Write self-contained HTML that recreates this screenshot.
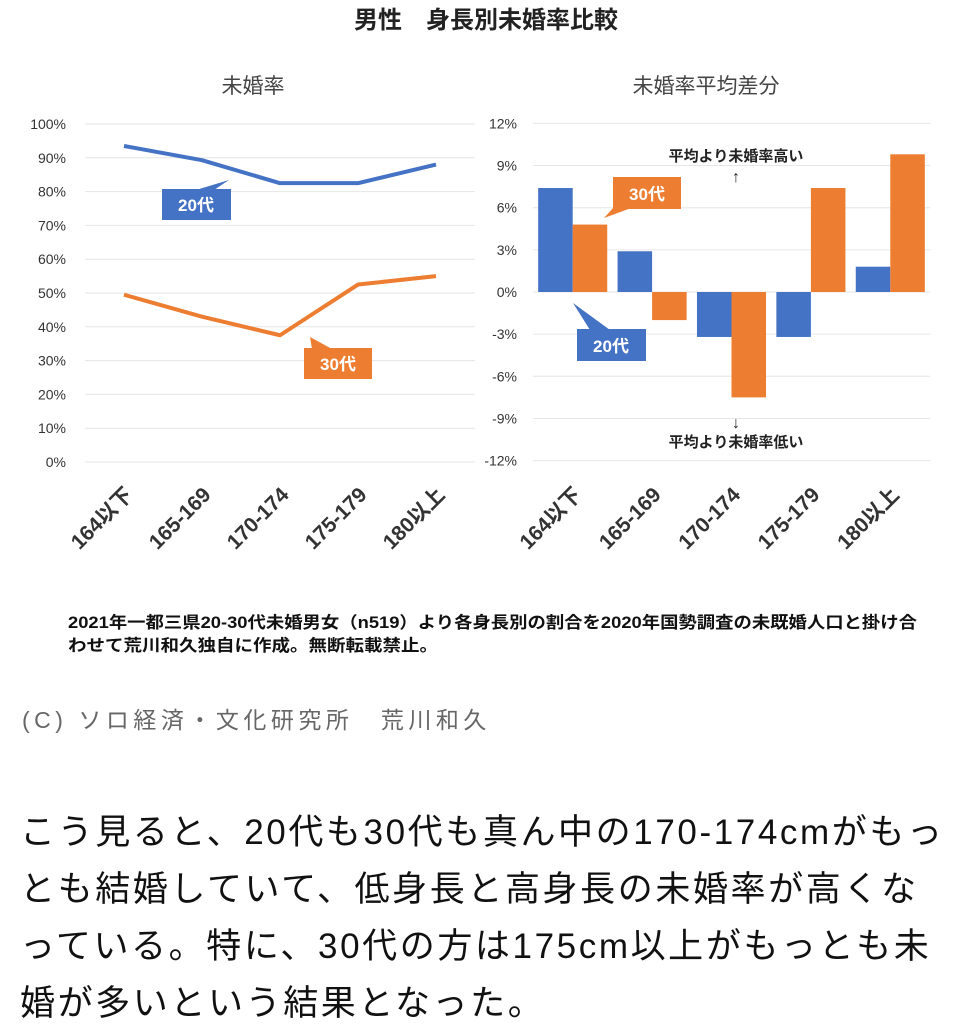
<!DOCTYPE html>
<html><head><meta charset="utf-8">
<style>
html,body{margin:0;padding:0;background:#fff;}
body{width:973px;height:1024px;overflow:hidden;position:relative;font-family:"Liberation Sans","Noto Sans CJK JP",sans-serif;}
svg{position:absolute;left:0;top:0;}
.t{font-family:"Liberation Sans","Noto Sans CJK JP",sans-serif;}
#credit{position:absolute;left:22px;top:701px;font-size:23px;color:#666;margin:0;letter-spacing:4.5px;white-space:nowrap;}
#body{position:absolute;left:20px;top:804px;width:950px;font-size:35px;line-height:57px;color:#111;margin:0;letter-spacing:2.6px;white-space:nowrap;}
</style></head>
<body>
<svg id="chart" width="973" height="690">
<text class="t" x="486" y="28" text-anchor="middle" font-size="24" font-weight="bold" fill="#222">男性　身長別未婚率比較</text>
<text class="t" x="253" y="93" text-anchor="middle" font-size="21" fill="#444">未婚率</text>
<text class="t" x="706" y="93" text-anchor="middle" font-size="21" fill="#444">未婚率平均差分</text>
<g id="left"></g><g id="right"></g>
<text class="t" x="68" y="628" font-size="16.5" font-weight="bold" fill="#111" textLength="849" lengthAdjust="spacingAndGlyphs">2021年一都三県20-30代未婚男女（n519）より各身長別の割合を2020年国勢調査の未既婚人口と掛け合</text>
<text class="t" x="68" y="651" font-size="16.5" font-weight="bold" fill="#111" textLength="370" lengthAdjust="spacingAndGlyphs">わせて荒川和久独自に作成。無断転載禁止。</text>
</svg>
<p id="credit">(C) ソロ経済・文化研究所　荒川和久</p>
<p id="body">こう見ると、20代も30代も真ん中の170-174cmがもっ<br>とも結婚していて、低身長と高身長の未婚率が高くな<br>っている。特に、30代の方は175cm以上がもっとも未<br>婚が多いという結果となった。</p>
<script>
const categories=["164以下","165-169","170-174","175-179","180以上"];
const rate20=[93.5,89.3,82.5,82.5,88];
const rate30=[49.5,43,37.5,52.5,55];
const leftTicks=[0,10,20,30,40,50,60,70,80,90,100];
const diff20=[7.4,2.9,-3.2,-3.2,1.8];
const diff30=[4.8,-2.0,-7.5,7.4,9.8];
const rightTicks=[-12,-9,-6,-3,0,3,6,9,12];
const NS="http://www.w3.org/2000/svg";
const BLUE="#4472c4",ORANGE="#ed7d31";
function mk(p,tag,attrs,txt){const e=document.createElementNS(NS,tag);for(const k in attrs)e.setAttribute(k,attrs[k]);if(txt!==undefined)e.textContent=txt;p.appendChild(e);return e;}
// left chart
const L=document.getElementById('left');
const lx0=85,lx1=475,ly=v=>462-(v/100)*338;
const lbw=(lx1-lx0)/categories.length;
const lcx=i=>lx0+lbw*(i+0.5);
leftTicks.forEach(t=>{
 const g=mk(L,'line',{x1:lx0,x2:lx1,y1:ly(t),y2:ly(t),stroke:'#e6e6e6','stroke-width':1});
 
 
 const tx=mk(L,'text',{x:66,y:ly(t)+5,'text-anchor':'end','font-size':14,fill:'#333',class:'t'},t+'%');
 
 
});
[[rate20,BLUE,'line-20s'],[rate30,ORANGE,'line-30s']].forEach(([d,c,n])=>{
 const pl=mk(L,'polyline',{points:d.map((v,i)=>lcx(i)+','+ly(v)).join(' '),fill:'none',stroke:c,'stroke-width':4,'stroke-linejoin':'round'});
 
 
});
categories.forEach((c,i)=>{
 const t=mk(L,'text',{x:lcx(i)+10,y:496,'text-anchor':'end','font-size':21,'font-weight':'bold',fill:'#333',class:'t',transform:`rotate(-45 ${lcx(i)+10} 496)`},c);
 
 
});
// callouts left
let cb=mk(L,'path',{d:'M196 190 L229 180 L214 190 Z',fill:BLUE});

cb=mk(L,'rect',{x:162,y:189,width:69,height:31,fill:BLUE});

cb=mk(L,'text',{x:196,y:211,'text-anchor':'middle','font-size':17,'font-weight':'bold',fill:'#fff',class:'t'},'20代');

cb=mk(L,'path',{d:'M312 349 L332 349 L310 337 Z',fill:ORANGE});

cb=mk(L,'rect',{x:304,y:348,width:68,height:31,fill:ORANGE});

cb=mk(L,'text',{x:338,y:370,'text-anchor':'middle','font-size':17,'font-weight':'bold',fill:'#fff',class:'t'},'30代');

// right chart
const R=document.getElementById('right');
const rx0=533,rx1=930,ry=v=>292-v*14.05;
const rbw=(rx1-rx0)/categories.length;
const barW=rbw*0.435;
rightTicks.forEach(t=>{
 const g=mk(R,'line',{x1:rx0,x2:rx1,y1:ry(t),y2:ry(t),stroke:'#e6e6e6','stroke-width':1});
 
 
 const tx=mk(R,'text',{x:517,y:ry(t)+5,'text-anchor':'end','font-size':14,fill:'#333',class:'t'},t+'%');
 
 
});
categories.forEach((c,i)=>{
 const cx=rx0+rbw*(i+0.5);
 [[diff20[i],BLUE,-1,'bar-20s'],[diff30[i],ORANGE,0,'bar-30s']].forEach(([v,col,off,n])=>{
  const y=Math.min(ry(v),ry(0)),h=Math.abs(ry(v)-ry(0));
  const r=mk(R,'rect',{x:cx+off*barW,y:y,width:barW,height:h,fill:col});
  
  
 });
 const t=mk(R,'text',{x:cx+10,y:496,'text-anchor':'end','font-size':21,'font-weight':'bold',fill:'#333',class:'t',transform:`rotate(-45 ${cx+10} 496)`},c);
 
 
});
cb=mk(R,'path',{d:'M604 218 L614 207 L634 207 Z',fill:ORANGE});

cb=mk(R,'rect',{x:613,y:177,width:68,height:32,fill:ORANGE});

cb=mk(R,'text',{x:647,y:200,'text-anchor':'middle','font-size':17,'font-weight':'bold',fill:'#fff',class:'t'},'30代');

cb=mk(R,'path',{d:'M573 303 L610 330 L590 330 Z',fill:BLUE});

cb=mk(R,'rect',{x:577,y:329,width:69,height:32,fill:BLUE});

cb=mk(R,'text',{x:611,y:352,'text-anchor':'middle','font-size':17,'font-weight':'bold',fill:'#fff',class:'t'},'20代');

cb=mk(R,'text',{x:736,y:161,'text-anchor':'middle','font-size':15,'font-weight':'bold',fill:'#222',class:'t'},'平均より未婚率高い');

cb=mk(R,'text',{x:736,y:182,'text-anchor':'middle','font-size':16,'font-weight':'bold',fill:'#222',class:'t'},'↑');

cb=mk(R,'text',{x:736,y:428,'text-anchor':'middle','font-size':16,'font-weight':'bold',fill:'#222',class:'t'},'↓');

cb=mk(R,'text',{x:736,y:447,'text-anchor':'middle','font-size':15,'font-weight':'bold',fill:'#222',class:'t'},'平均より未婚率低い');

</script>
</body></html>
